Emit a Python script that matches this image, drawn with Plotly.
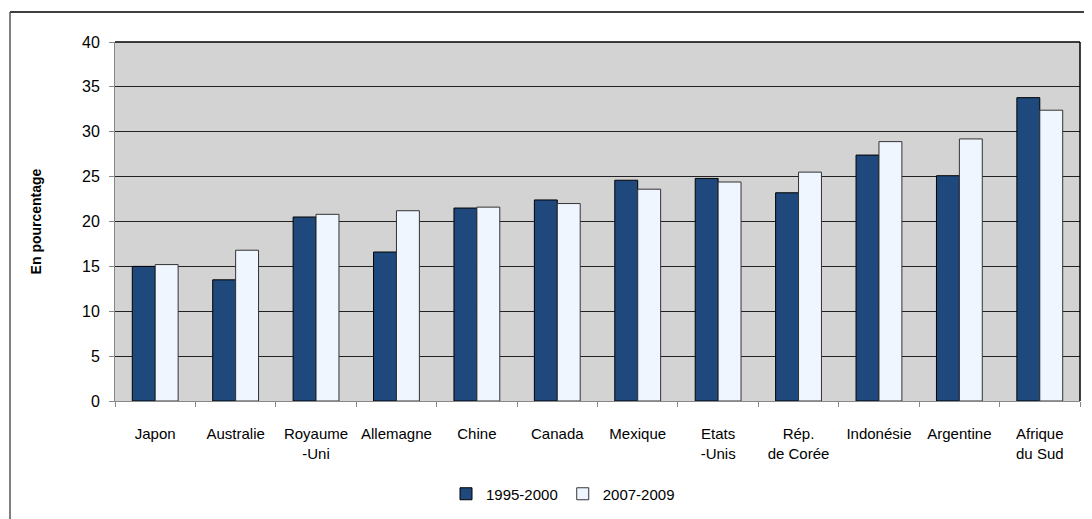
import plotly.graph_objects as go

categories = ["Japon", "Australie", "Royaume<br>-Uni", "Allemagne", "Chine", "Canada",
              "Mexique", "Etats<br>-Unis", "Rép.<br>de Corée", "Indonésie", "Argentine",
              "Afrique<br>du Sud"]
series_1995_2000 = [15.0, 13.5, 20.5, 16.6, 21.5, 22.4, 24.6, 24.8, 23.2, 27.4, 25.1, 33.8]
series_2007_2009 = [15.2, 16.8, 20.8, 21.2, 21.6, 22.0, 23.6, 24.4, 25.5, 28.9, 29.2, 32.4]
y_ticks = [0, 5, 10, 15, 20, 25, 30, 35, 40]

FONT = "Liberation Sans, Arial, sans-serif"

fig = go.Figure()
fig.add_trace(go.Bar(x=categories, y=series_1995_2000, name="1995-2000",
                     marker=dict(color="#1F497D", line=dict(color="#000000", width=1))))
fig.add_trace(go.Bar(x=categories, y=series_2007_2009, name="2007-2009",
                     marker=dict(color="#EFF6FF", line=dict(color="#333333", width=1))))

# page has an 8px body margin, so the figure is sized/offset to compensate
OFF = 8
W, H = 1092 - OFF, 519 - OFF
L, R, T, B = 115 - OFF, 12, 42 - OFF, 118
pw = W - L - R
ph = H - T - B

fig.update_layout(
    width=W, height=H,
    margin=dict(l=L, r=R, t=T, b=B, autoexpand=False),
    paper_bgcolor="white",
    plot_bgcolor="#D3D3D3",
    barmode="group", bargap=0.43, bargroupgap=0,
    font=dict(family=FONT, size=15, color="#000000"),
    showlegend=True,
    legend=dict(orientation="h", x=(563 - 115) / pw, xanchor="center",
                y=-(494 - 401) / ph, yanchor="middle",
                font=dict(family=FONT, size=15), itemwidth=30,
                traceorder="normal"),
    xaxis=dict(showgrid=False, showline=True, linecolor="#888888", linewidth=1,
               ticks="outside", ticklen=5, tickcolor="#888888",
               tickson="boundaries", ticklabelstandoff=19, tickangle=0,
               automargin=False,
               tickfont=dict(family=FONT, size=15)),
    yaxis=dict(range=[0, 40], tickvals=y_ticks, showgrid=True, gridcolor="#222222",
               gridwidth=1, showline=True, linecolor="#888888", linewidth=1,
               ticks="outside", ticklen=5, tickcolor="#888888", zeroline=False,
               automargin=False,
               tickfont=dict(family=FONT, size=16), ticklabelstandoff=6,
               title=dict(text="<b>En pourcentage</b>", standoff=37,
                          font=dict(family=FONT, size=14))),
)

# right and top border of plot area
fig.add_shape(type="line", xref="paper", yref="paper", x0=1, x1=1, y0=0, y1=1,
              line=dict(color="#000000", width=1.5))
fig.add_shape(type="line", xref="paper", yref="paper", x0=0, x1=1, y0=1, y1=1,
              line=dict(color="#000000", width=1.5))
# outer chart frame (top and left edges visible)
fx = (10 - 115) / pw
fy_top = 1 + (42 - 12) / ph
fy_bot = -(519 - 401) / ph
fig.add_shape(type="line", xref="paper", yref="paper", x0=fx, x1=(1092 - 115) / pw,
              y0=fy_top, y1=fy_top, line=dict(color="#000000", width=1.5))
fig.add_shape(type="line", xref="paper", yref="paper", x0=fx, x1=fx,
              y0=fy_top, y1=fy_bot, line=dict(color="#555555", width=1.5))

fig.write_html("out.html")
